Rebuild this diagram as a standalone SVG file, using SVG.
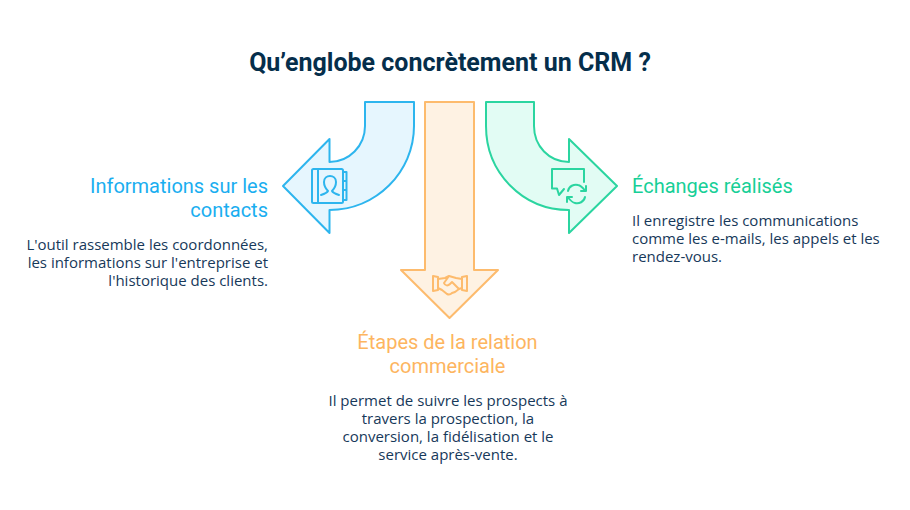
<svg xmlns="http://www.w3.org/2000/svg" width="910" height="510" viewBox="0 0 910 510">
<style>
text{font-family:Roboto,"Liberation Sans",sans-serif}
.title{font-size:25px;font-weight:700;fill:#052e4b;text-anchor:middle}
.h{font-size:20px}
.b{font-family:"Open Sans","Liberation Sans",sans-serif;font-size:15px;fill:#17395a}
.shape{stroke-width:2;stroke-linejoin:round}
.ic{fill:none;stroke-width:2;stroke-linecap:round;stroke-linejoin:round}
.e{text-anchor:end}.m{text-anchor:middle}
</style>
<rect width="910" height="510" fill="#ffffff"/>
<text class="title" x="450" y="71">Qu’englobe concrètement un CRM ?</text>
<g id="node-contacts">
<path class="shape" fill="#e6f6fe" stroke="#2db5ee" d="M365 102H414V126C414 172 376 210 329.500 210V233L283 186L329.500 139V162C349 162 365 146 365 126Z"/>
<g class="ic" stroke="#2db5ee">
<rect x="312" y="169" width="31" height="34" rx="1.500"/>
<path d="M318 169V203M343 172H346.500V200H343M343 181H346.500M343 190H346.500"/>
<path d="M321 195C324 194 327 193 328 191C325 188 324 185 324 182C324 178 327 176 330 176C333 176 336 178 336 182C336 185 335 188 332 191C333 193 336 194 339 195"/>
</g>
<text class="h e" x="268" y="193" fill="#1aaef0">Informations sur les</text>
<text class="h e" x="268" y="217" fill="#1aaef0">contacts</text>
<text class="b e" x="268" y="250">L'outil rassemble les coordonnées,</text>
<text class="b e" x="268" y="268">les informations sur l'entreprise et</text>
<text class="b e" x="268" y="286">l'historique des clients.</text>
</g>
<g id="node-etapes">
<path class="shape" fill="#fef2e3" stroke="#fdbb6d" d="M425 102H474V270H498L449.500 318L401 270H425Z"/>
<g class="ic" stroke="#fdbb6d">
<path d="M433 276L438 277V290L433 291ZM467 276L462 277V290L467 291Z"/>
<path d="M438 279L445 278L449 276L456 278L462 279M449 276L444 283C445 286 448 286 450 284L452 282L459 289M438 288L442 290L447 294C449 295 451 294 452 293L455 292L459 289L462 288"/>
</g>
<text class="h m" x="447.500" y="349" fill="#fdb55f">Étapes de la relation</text>
<text class="h m" x="447.500" y="373" fill="#fdb55f">commerciale</text>
<text class="b m" x="448" y="406">Il permet de suivre les prospects à</text>
<text class="b m" x="448" y="424">travers la prospection, la</text>
<text class="b m" x="448" y="442">conversion, la fidélisation et le</text>
<text class="b m" x="448" y="460">service après-vente.</text>
</g>
<g id="node-echanges">
<path class="shape" fill="#e2fcf4" stroke="#2bd5a0" d="M486 102H534V126C534 146 549 162 569 162V139L617 186L569 233V210C522 210 486 172 486 126Z"/>
<g class="ic" stroke="#2bd5a0">
<path d="M584 182V169H552V188.500H557L559 195L564 189"/>
<path d="M568 191C569 186 574 184 578 185C581 185.500 583 188 585 190.500M586 186V191H581"/>
<path d="M585 197C584 202 579 204 575 203C572 202.500 570 200 568 197.500M567 202V197H572"/>
</g>
<text class="h" x="632" y="193" fill="#17cf97">Échanges réalisés</text>
<text class="b" x="632" y="226">Il enregistre les communications</text>
<text class="b" x="632" y="244">comme les e-mails, les appels et les</text>
<text class="b" x="632" y="262">rendez-vous.</text>
</g>
</svg>
